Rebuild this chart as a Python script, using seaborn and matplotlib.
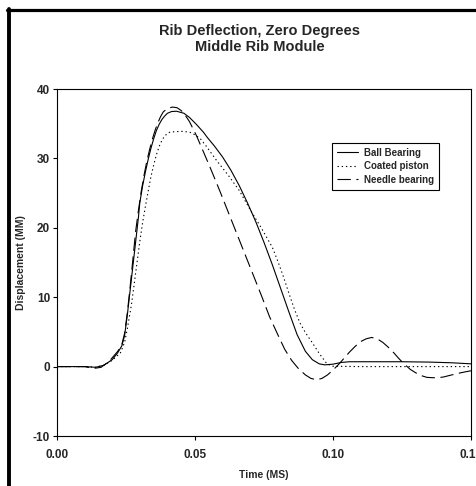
import numpy as np
import pandas as pd
import matplotlib
matplotlib.use('Agg')
import matplotlib.pyplot as plt
from matplotlib.lines import Line2D
import seaborn as sns

# values (time in MS, displacement in MM)
ball_t = [0, 0.010, 0.014, 0.017, 0.020, 0.022, 0.0235, 0.0245, 0.0255, 0.0265, 0.0275,
          0.0285, 0.0295, 0.030, 0.031, 0.032, 0.033, 0.034, 0.035, 0.036, 0.037,
          0.038, 0.039, 0.040, 0.0415, 0.0433, 0.046, 0.048, 0.0505, 0.053, 0.0545,
          0.057, 0.060, 0.063, 0.066, 0.069, 0.072, 0.075, 0.078, 0.081, 0.084,
          0.087, 0.090, 0.0925, 0.095, 0.097, 0.100, 0.103, 0.106, 0.115, 0.125,
          0.135, 0.143, 0.150]
ball_v = [0, 0, -0.1, 0.2, 1.0, 2.0, 3.0, 4.5, 7.5, 11.0, 14.5,
          18.0, 21.5, 23.6, 26.0, 28.0, 29.8, 31.4, 32.8, 34.0, 34.9,
          35.6, 36.1, 36.5, 36.75, 36.8, 36.5, 35.9, 34.9, 33.8, 33.0,
          31.8, 30.2, 28.3, 26.1, 23.6, 20.9, 17.9, 14.7, 11.3, 7.9,
          4.6, 2.2, 1.0, 0.4, 0.25, 0.35, 0.6, 0.7, 0.7, 0.7,
          0.65, 0.55, 0.4]

coated_t = [0, 0.010, 0.014, 0.017, 0.020, 0.023, 0.0245, 0.0255, 0.027, 0.028, 0.029,
            0.030, 0.031, 0.032, 0.033, 0.034, 0.035, 0.036, 0.037, 0.038, 0.039,
            0.040, 0.041, 0.045, 0.048, 0.050, 0.052, 0.054, 0.056, 0.058, 0.060,
            0.062, 0.064, 0.066, 0.068, 0.070, 0.072, 0.074, 0.076, 0.078, 0.080,
            0.082, 0.084, 0.086, 0.088, 0.090, 0.0924, 0.095, 0.0978, 0.100, 0.110,
            0.130, 0.150]
coated_v = [0, 0, -0.1, 0.2, 0.9, 2.0, 3.5, 5.5, 9.0, 12.0, 15.0,
            18.0, 20.7, 23.0, 25.2, 27.3, 29.0, 30.5, 31.7, 32.6, 33.2,
            33.6, 33.8, 33.9, 33.8, 33.4, 32.8, 31.8, 30.7, 29.6, 28.6,
            27.6, 26.5, 25.4, 24.0, 22.6, 21.3, 20.0, 18.6, 17.2, 15.2,
            13.0, 10.6, 8.3, 6.3, 4.9, 3.5, 1.9, 0.4, 0.05, 0,
            0, 0]

needle_t = [0, 0.010, 0.0135, 0.016, 0.019, 0.022, 0.0235, 0.0245, 0.0255, 0.0265, 0.0275,
            0.0285, 0.0295, 0.0305, 0.0315, 0.0325, 0.0335, 0.0345, 0.0355, 0.0365, 0.0375,
            0.0385, 0.040, 0.0419, 0.0435, 0.045, 0.0465, 0.048, 0.0505, 0.053, 0.056,
            0.059, 0.062, 0.065, 0.068, 0.071, 0.074, 0.077, 0.080, 0.0825, 0.085,
            0.0875, 0.090, 0.092, 0.094, 0.096, 0.098, 0.100, 0.102, 0.104, 0.106,
            0.108, 0.110, 0.112, 0.114, 0.116, 0.118, 0.120, 0.122, 0.124, 0.126,
            0.128, 0.130, 0.132, 0.134, 0.136, 0.138, 0.140, 0.142, 0.145, 0.148,
            0.150]
needle_v = [0, 0, -0.25, -0.1, 0.8, 2.2, 3.2, 4.8, 7.8, 11.5, 15.5,
            19.5, 22.5, 25.2, 27.5, 29.5, 31.2, 32.7, 34.0, 35.1, 36.0,
            36.7, 37.2, 37.4, 37.3, 36.9, 36.2, 35.3, 33.3, 31.0, 28.2,
            25.3, 22.3, 19.3, 16.3, 13.3, 10.3, 7.2, 4.6, 2.5, 0.9,
            -0.3, -1.2, -1.7, -1.9, -1.7, -1.2, -0.5, 0.3, 1.2, 2.1,
            2.9, 3.6, 4.0, 4.2, 4.0, 3.5, 2.8, 2.0, 1.1, 0.3,
            -0.4, -0.9, -1.3, -1.55, -1.6, -1.6, -1.5, -1.3, -1.0, -0.75,
            -0.6]

series_names = ['Ball Bearing', 'Coated piston', 'Needle bearing']
x_ticks = [0, 0.05, 0.10, 0.15]
x_tick_labels = ['0.00', '0.05', '0.10', '0.15']
y_ticks = [-10, 0, 10, 20, 30, 40]

df = pd.concat([
    pd.DataFrame({'Time': ball_t, 'Disp': ball_v, 'Series': series_names[0]}),
    pd.DataFrame({'Time': coated_t, 'Disp': coated_v, 'Series': series_names[1]}),
    pd.DataFrame({'Time': needle_t, 'Disp': needle_v, 'Series': series_names[2]}),
])

sns.set_style('white')
plt.rcParams['font.family'] = ['Liberation Sans', 'DejaVu Sans']
plt.rcParams['font.weight'] = 'bold'
plt.rcParams['axes.unicode_minus'] = False

fig = plt.figure(figsize=(4.77, 4.86), dpi=100)
ax = fig.add_axes([57 / 477, 1 - 436 / 486, 414 / 477, 347 / 486])

sns.lineplot(data=df, x='Time', y='Disp', style='Series', color='black',
             dashes={'Ball Bearing': '', 'Coated piston': (1.2, 2.6),
                     'Needle bearing': (12, 5)},
             linewidth=0.8, ax=ax, legend=True)

ax.set_xlim(0, 0.15)
ax.set_ylim(-10, 40)
ax.set_xticks(x_ticks)
ax.set_xticklabels(x_tick_labels)
ax.set_yticks(y_ticks)
ax.tick_params(direction='out', length=3, width=0.8, color='black',
               labelsize=8.5, bottom=True, left=True)
ax.tick_params(axis='x', pad=6)
ax.tick_params(axis='y', pad=2)
for sp in ax.spines.values():
    sp.set_color('black')
    sp.set_linewidth(0.8)

ax.set_xlabel('Time (MS)', fontsize=7.5, fontweight='bold', labelpad=7)
ax.set_ylabel('Displacement (MM)', fontsize=7.5, fontweight='bold', labelpad=5)

handles, labels = ax.get_legend_handles_labels()
leg = ax.legend(handles, labels, loc='upper left',
                bbox_to_anchor=((332 - 57) / 414, (436 - 143) / 347),
                borderaxespad=0, fancybox=False, framealpha=1,
                edgecolor='black', fontsize=7, handlelength=2.2,
                labelspacing=0.35, borderpad=0.5, handletextpad=0.6)
leg.get_frame().set_linewidth(0.8)

fig.text(260 / 477, 1 - 39 / 486, 'Rib Deflection, Zero Degrees\nMiddle Rib Module',
         ha='center', va='center', fontsize=10.5, fontweight='bold', linespacing=1.1)

# thick frame on the left and top edges
fig.add_artist(Line2D([9.2 / 477, 9.2 / 477], [0, 1 - 9 / 486], color='black', lw=2.8))
fig.add_artist(Line2D([7.3 / 477, 1], [1 - 10.5 / 486, 1 - 10.5 / 486], color='black', lw=2.3))

fig.savefig('out.png', dpi=100)
